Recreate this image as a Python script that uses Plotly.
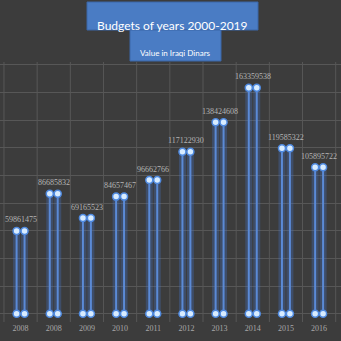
import plotly.graph_objects as go

# Budget per year, Iraqi Dinars
years = ["2008", "2008", "2009", "2010", "2011", "2012", "2013", "2014", "2015", "2016"]
budgets = [59861475, 86685832, 69165523, 84657467, 96662766,
           117122930, 138424608, 163359538, 119585322, 105895722]
value_labels = ["59861475", "86685832", "69165523", "84657467", "96662766",
                "117122930", "138424608", "163359538", "119585322", "105895722"]

pos = list(range(len(years)))
off = 0.12

# plot area spans figure pixels 62..322 vertically
TOP, BOT = 62, 322
def py(p):
    return (BOT - p) / (BOT - TOP)

# twin vertical stems for each year
stem_x, stem_y = [], []
dot_x, dot_y = [], []
for i, v in zip(pos, budgets):
    for d in (-off, off):
        stem_x += [i + d, i + d, None]
        stem_y += [0, v, None]
        dot_x += [i + d, i + d]
        dot_y += [0, v]

fig = go.Figure()
# soft glow behind the stems
fig.add_trace(go.Scatter(x=stem_x, y=stem_y, mode="lines",
                         line=dict(color="rgba(70,120,210,0.30)", width=7),
                         hoverinfo="skip", showlegend=False))
fig.add_trace(go.Scatter(x=stem_x, y=stem_y, mode="lines",
                         line=dict(color="#5b8ad6", width=2),
                         hoverinfo="skip", showlegend=False))
fig.add_trace(go.Scatter(x=dot_x, y=dot_y, mode="markers",
                         marker=dict(size=7, color="#d8ecff",
                                     line=dict(color="#4f8ae0", width=1.5)),
                         hoverinfo="skip", showlegend=False))

annotations = [
    dict(x=i, y=v, xref="x", yref="y", text=t, showarrow=False, yshift=11,
         font=dict(family="Liberation Serif", size=8, color="#b4b4b4"))
    for i, v, t in zip(pos, budgets, value_labels)
]
annotations += [
    dict(xref="paper", yref="paper", x=172/341, y=py(16), showarrow=False,
         text="Budgets of years 2000-2019",
         font=dict(family="Lato", size=12, color="white")),
    dict(xref="paper", yref="paper", x=175/341, y=py(46), showarrow=False,
         text="Value in Iraqi Dinars",
         font=dict(family="Lato", size=8, color="white")),
]

fig.update_layout(
    width=341, height=341,
    margin=dict(l=0, r=0, t=TOP, b=341 - BOT),
    paper_bgcolor="#3c3c3c", plot_bgcolor="#3c3c3c",
    xaxis=dict(range=[-0.62, 9.66], tickmode="array", tickvals=pos, ticktext=years,
               showgrid=False, zeroline=False, showline=False, ticks="",
               tickfont=dict(family="Liberation Serif", size=8, color="#a8a8a8")),
    yaxis=dict(range=[-6000000, 182000000], dtick=20000000, showticklabels=False,
               showgrid=True, gridcolor="#575757", gridwidth=1, zeroline=False),
    shapes=[
        # vertical grid between categories
        *[dict(type="line", xref="x", yref="paper", x0=k - 0.5, x1=k - 0.5, y0=0, y1=1,
               line=dict(color="#575757", width=1), layer="below")
          for k in range(0, len(years) + 1)],
        dict(type="rect", xref="paper", yref="paper", x0=87/341, x1=258/341,
             y0=py(30), y1=py(2), fillcolor="#4a7cc4",
             line=dict(color="#3b66a8", width=1), layer="above"),
        dict(type="rect", xref="paper", yref="paper", x0=130/341, x1=221/341,
             y0=py(61), y1=py(30), fillcolor="#4a7cc4",
             line=dict(color="#3b66a8", width=1), layer="above"),
    ],
    annotations=annotations,
)

fig.write_html("out.html")
